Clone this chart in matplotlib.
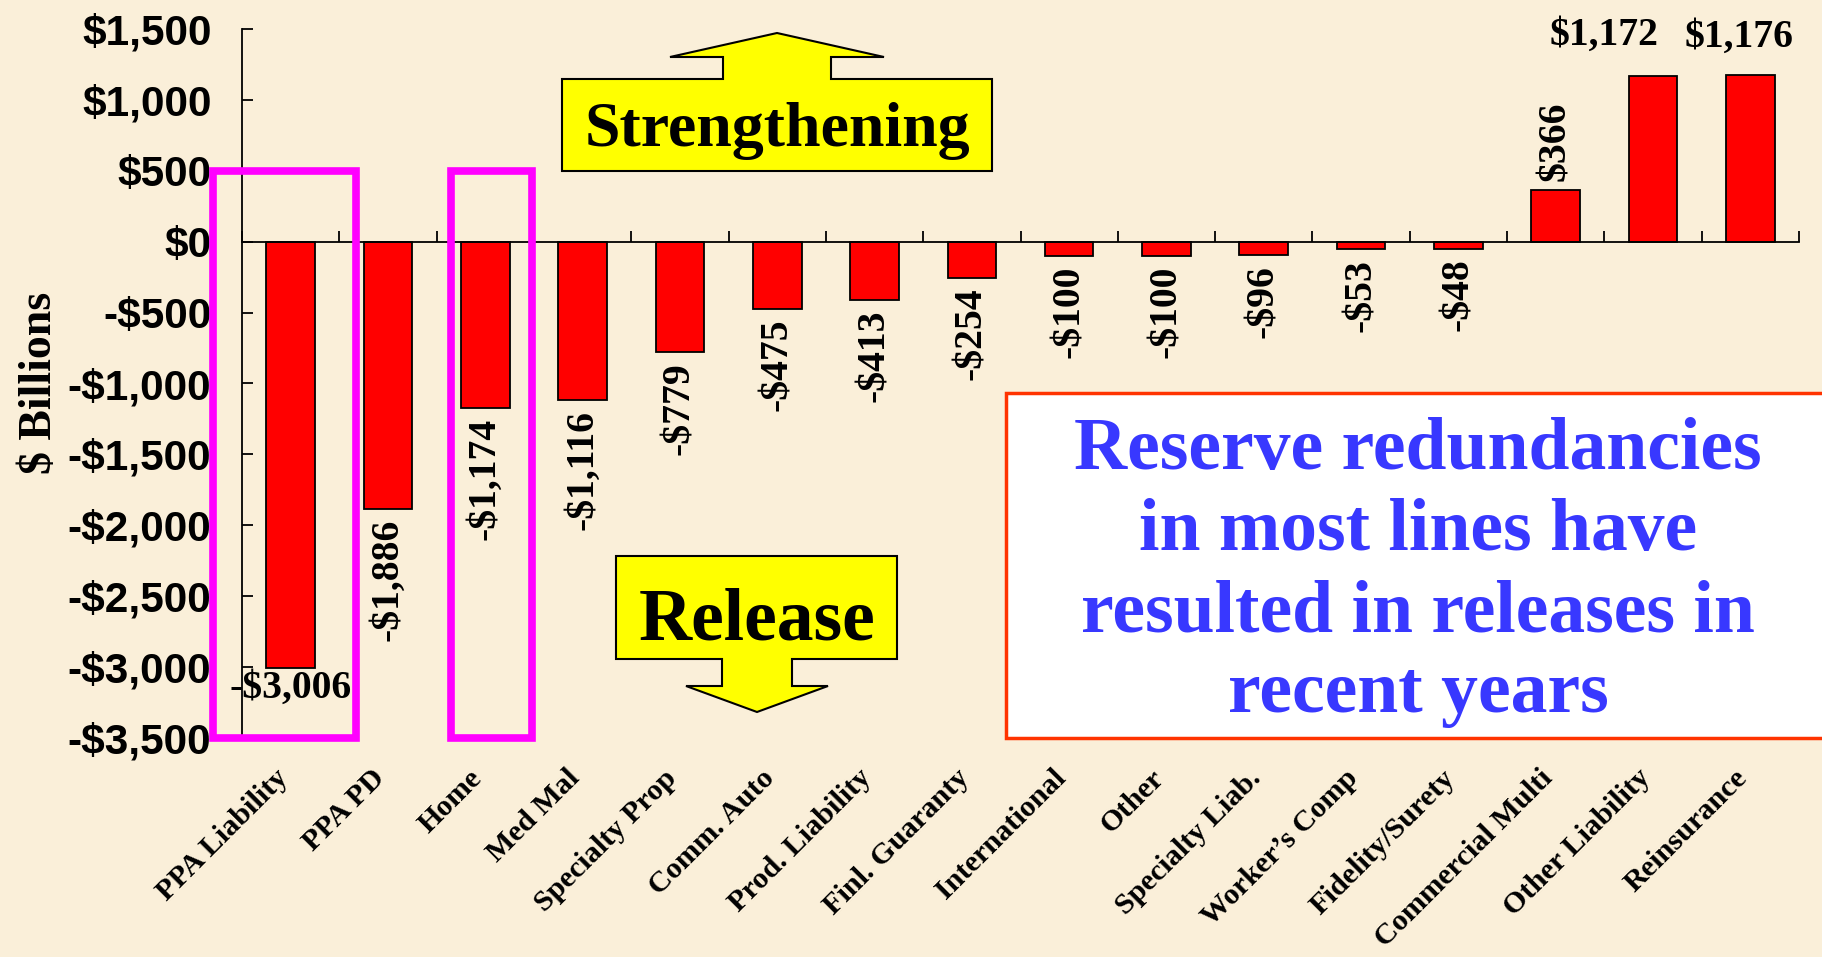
import matplotlib
matplotlib.use("Agg")
import numpy as np
import matplotlib.pyplot as plt
import matplotlib.transforms as mtransforms
from matplotlib.patches import Polygon, Rectangle
from matplotlib.ticker import FixedLocator, FuncFormatter

# ---- data -------------------------------------------------------------
categories = ["PPA Liability", "PPA PD", "Home", "Med Mal", "Specialty Prop",
              "Comm. Auto", "Prod. Liability", "Finl. Guaranty", "International",
              "Other", "Specialty Liab.", "Worker\u2019s Comp", "Fidelity/Surety",
              "Commercial Multi", "Other Liability", "Reinsurance"]
reserve_change = [-3006, -1886, -1174, -1116, -779, -475, -413, -254, -100,
                  -100, -96, -53, -48, 366, 1172, 1176]
highlighted = ["PPA Liability", "Home"]
y_ticks = list(range(-3500, 1501, 500))
message = ["Reserve redundancies", "in most lines have",
           "resulted in releases in", "recent years"]

# ---- styling ----------------------------------------------------------
W, H, DPI = 1822, 957, 100
BG = "#FAEFD9"
SERIF = "Liberation Serif"
SANS = "Liberation Sans"


def money(v):
    return f"${v:,}" if v >= 0 else f"-${-v:,}"


def fx(px):
    return px / W


def fy(py):
    return 1 - py / H


fig = plt.figure(figsize=(W / DPI, H / DPI), dpi=DPI)
fig.patch.set_facecolor(BG)
ax = fig.add_axes([fx(242), fy(738), (1799 - 242) / W, (738 - 29) / H])
ax.set_facecolor("none")

x = np.arange(len(categories))
ax.bar(x, reserve_change, width=0.5, color="#FF0000", edgecolor="black",
       linewidth=1.3, zorder=3)

ax.set_xlim(-0.5, len(categories) - 0.5)
ax.set_ylim(min(y_ticks), max(y_ticks))

for s in ("top", "right"):
    ax.spines[s].set_visible(False)
ax.spines["bottom"].set_position(("data", 0))
for s in ("left", "bottom"):
    ax.spines[s].set_linewidth(1.3)
    ax.spines[s].set_zorder(4)

# category separators on the zero line
ax.xaxis.set_major_locator(FixedLocator(np.arange(-0.5, len(categories), 1.0)))
ax.tick_params(axis="x", direction="in", length=8, width=1.3, labelbottom=False)

ax.yaxis.set_major_locator(FixedLocator(y_ticks))
ax.yaxis.set_major_formatter(FuncFormatter(lambda v, p: money(int(v))))
ax.tick_params(axis="y", direction="in", length=8, width=1.3, pad=22,
               labelsize=30.5)
for lbl in ax.get_yticklabels():
    lbl.set_fontfamily(SANS)
    lbl.set_fontweight("bold")

# category names below the plot
trans = mtransforms.blended_transform_factory(ax.transData, ax.transAxes)
for i, name in enumerate(categories):
    ax.annotate(name, xy=(i, 0), xycoords=trans, xytext=(-12, -19),
                textcoords="offset points", rotation=45, rotation_mode="anchor",
                ha="right", va="top", fontsize=21.8, fontweight="bold",
                family=SERIF, annotation_clip=False)

# value labels
label_kw = dict(textcoords="offset points", fontsize=28.5, fontweight="bold",
                family=SERIF, annotation_clip=False, zorder=6)
flat_offsets = {"PPA Liability": (0, -15), "Other Liability": (-35, 29),
                "Reinsurance": (-8, 27)}
for i, (name, v) in enumerate(zip(categories, reserve_change)):
    if name in flat_offsets:
        ax.annotate(money(v), xy=(i, v), xytext=flat_offsets[name],
                    ha="center", va="center", **label_kw)
    elif v < 0:
        ax.annotate(money(v), xy=(i, v), xytext=(0, -7), rotation=90,
                    ha="center", va="top", **label_kw)
    else:
        ax.annotate(money(v), xy=(i, v), xytext=(0, 6), rotation=90,
                    ha="center", va="bottom", **label_kw)

# highlight frames around selected lines
frame_extent = {"PPA Liability": (-0.80, 0.67), "Home": (-0.35, 0.48)}
for name in highlighted:
    i = categories.index(name)
    lo, hi = frame_extent[name]
    ax.add_patch(Rectangle((i + lo, -3500), hi - lo, 4000, fill=False,
                           edgecolor="#FF00FF", linewidth=5.5, clip_on=False,
                           zorder=5))

fig.text(fx(40), fy(383), "$ Billions", rotation=90, ha="center", va="center",
         fontsize=33, fontweight="bold", family=SERIF)


# block arrows
def block_arrow(points):
    pts = [(fx(px), fy(py)) for px, py in points]
    fig.patches.append(Polygon(pts, closed=True, transform=fig.transFigure,
                               facecolor="#FFFF00", edgecolor="black",
                               linewidth=1.5, zorder=5))


block_arrow([(562, 171), (992, 171), (992, 79), (831, 79), (831, 57),
             (884, 57), (777, 33), (670, 57), (723, 57), (723, 79), (562, 79)])
fig.text(fx(777), fy(146), "Strengthening", ha="center", va="baseline",
         fontsize=46, fontweight="bold", family=SERIF, zorder=6)

block_arrow([(616, 556), (897, 556), (897, 659), (792, 659), (792, 686),
             (828, 686), (757, 712), (686, 686), (722, 686), (722, 659),
             (616, 659)])
fig.text(fx(757), fy(640), "Release", ha="center", va="baseline",
         fontsize=53, fontweight="bold", family=SERIF, zorder=6)

# message box
fig.patches.append(Rectangle((fx(1006), fy(738)), fx(1830) - fx(1006),
                             fy(393) - fy(738), transform=fig.transFigure,
                             facecolor="white", edgecolor="#FF3300",
                             linewidth=2.5, zorder=5))
for k, line in enumerate(message):
    fig.text(fx(1418), fy(469 + 81 * k), line, ha="center", va="baseline",
             fontsize=53, fontweight="bold", family=SERIF, color="#3838FF",
             zorder=6)

fig.savefig("out.png", dpi=DPI, facecolor=BG)
